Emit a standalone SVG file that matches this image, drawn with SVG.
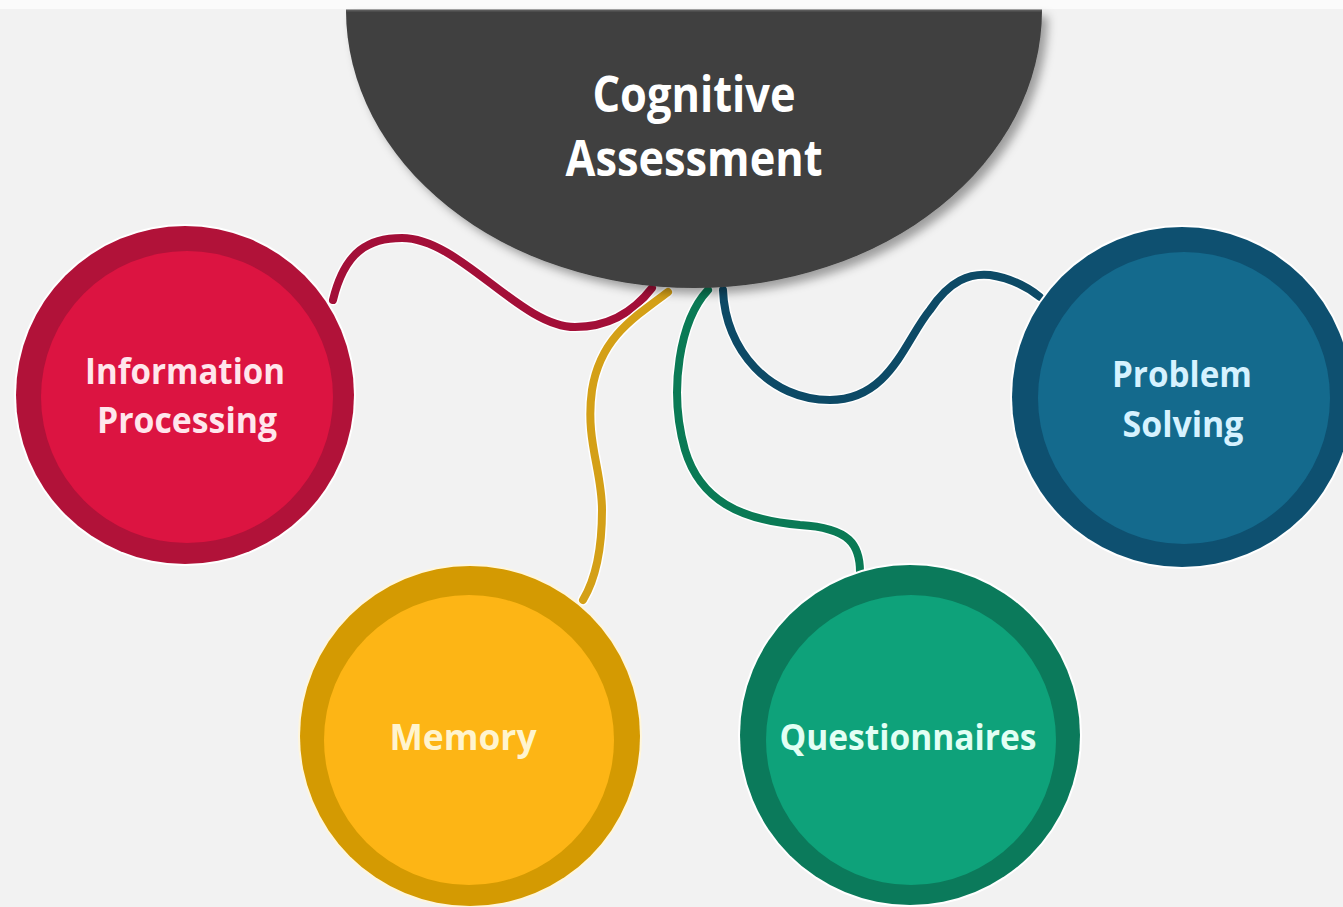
<svg xmlns="http://www.w3.org/2000/svg" width="1343" height="907" viewBox="0 0 1343 907">
  <defs>
    <filter id="shadow" x="-10%" y="-10%" width="130%" height="140%">
      <feDropShadow dx="6" dy="6" stdDeviation="5" flood-color="#000" flood-opacity="0.35"/>
    </filter>
    <style>
      .lbl { font-family: "Open Sans", "Liberation Sans", sans-serif; font-weight: 700; text-anchor: middle; }
      .big { font-size: 50px; fill: #ffffff; }
      .sm { font-size: 36px; }
      .wire { fill: none; stroke-width: 8; stroke-linecap: round; }
      .halo { fill: none; stroke: #ffffff; stroke-width: 11; stroke-linecap: round; }
    </style>
  </defs>

  <rect x="0" y="0" width="1343" height="907" fill="#f2f2f2"/>
  <rect x="0" y="0" width="1343" height="9" fill="#fbfbfb"/>

  <g id="connectors">
    <path class="halo" d="M 333 300 C 345 250, 370 238, 402 238 C 460 238, 520 327, 575 327 C 610 327, 635 310, 652 288"/>
    <path class="wire" stroke="#a30f38" d="M 333 300 C 345 250, 370 238, 402 238 C 460 238, 520 327, 575 327 C 610 327, 635 310, 652 288"/>

    <path class="halo" d="M 668 292 C 630 320, 600 340, 592 390 C 585 440, 602 470, 602 510 C 602 550, 595 580, 583 600"/>
    <path class="wire" stroke="#d4a017" d="M 668 292 C 630 320, 600 340, 592 390 C 585 440, 602 470, 602 510 C 602 550, 595 580, 583 600"/>

    <path class="halo" d="M 708 290 C 680 320, 668 390, 685 450 C 700 500, 740 520, 800 525 C 850 528, 860 545, 860 572"/>
    <path class="wire" stroke="#0a7a55" stroke-width="7" d="M 708 290 C 680 320, 668 390, 685 450 C 700 500, 740 520, 800 525 C 850 528, 860 545, 860 572"/>

    <path class="halo" d="M 723 290 C 725 350, 770 400, 830 400 C 890 400, 905 340, 930 310 C 950 280, 970 273, 990 275 C 1010 278, 1025 285, 1040 297"/>
    <path class="wire" stroke="#0d4a66" d="M 723 290 C 725 350, 770 400, 830 400 C 890 400, 905 340, 930 310 C 950 280, 970 273, 990 275 C 1010 278, 1025 285, 1040 297"/>
  </g>

  <g id="cognitive-assessment">
    <path d="M 346 10 A 348 278 0 0 0 1042 10 Z" fill="#3f3f3f" filter="url(#shadow)"/>
    <line x1="346" y1="10.5" x2="1042" y2="10.5" stroke="#5a5a5a" stroke-width="2"/>
    <text class="lbl big" x="694" y="112" textLength="203" lengthAdjust="spacingAndGlyphs">Cognitive</text>
    <text class="lbl big" x="694" y="176" textLength="257" lengthAdjust="spacingAndGlyphs">Assessment</text>
  </g>

  <g id="information-processing">
    <circle cx="185" cy="395" r="171" fill="#ffffff"/>
    <circle cx="185" cy="395" r="169" fill="#b11239"/>
    <circle cx="187" cy="397" r="146" fill="#dc1441"/>
    <text class="lbl sm" x="185" y="384" fill="#ffe6ec" textLength="200" lengthAdjust="spacingAndGlyphs">Information</text>
    <text class="lbl sm" x="187" y="433" fill="#ffe6ec" textLength="180" lengthAdjust="spacingAndGlyphs">Processing</text>
  </g>

  <g id="problem-solving">
    <circle cx="1182" cy="397" r="172" fill="#ffffff"/>
    <circle cx="1182" cy="397" r="170" fill="#0e5070"/>
    <circle cx="1184" cy="398" r="146" fill="#146a8d"/>
    <text class="lbl sm" x="1182" y="387" fill="#d6f2ff" textLength="140" lengthAdjust="spacingAndGlyphs">Problem</text>
    <text class="lbl sm" x="1183" y="437" fill="#d6f2ff" textLength="121" lengthAdjust="spacingAndGlyphs">Solving</text>
  </g>

  <g id="memory">
    <circle cx="470" cy="736" r="172" fill="#fff6dc"/>
    <circle cx="470" cy="736" r="170" fill="#d49a02"/>
    <circle cx="469" cy="740" r="145" fill="#fdb515"/>
    <text class="lbl sm" x="463" y="750" fill="#fff4cf" textLength="147" lengthAdjust="spacingAndGlyphs">Memory</text>
  </g>

  <g id="questionnaires">
    <circle cx="910" cy="735" r="172" fill="#ffffff"/>
    <circle cx="910" cy="735" r="170" fill="#0b7a5b"/>
    <circle cx="911" cy="740" r="145" fill="#0ea27a"/>
    <text class="lbl sm" x="908" y="750" fill="#e2fff4" textLength="257" lengthAdjust="spacingAndGlyphs">Questionnaires</text>
  </g>
</svg>
